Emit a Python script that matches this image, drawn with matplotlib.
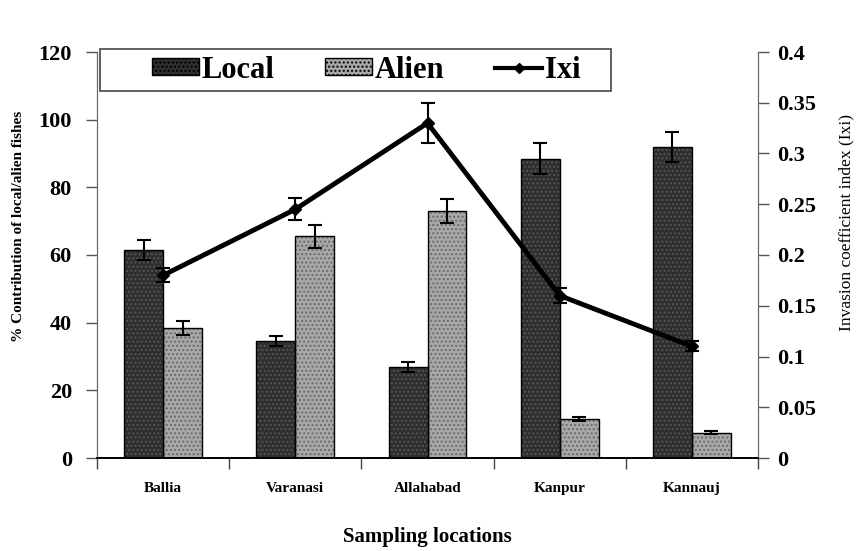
import numpy as np
import matplotlib.pyplot as plt
from matplotlib.patches import Patch, Rectangle
from matplotlib.lines import Line2D

plt.rcParams['font.family'] = ['Liberation Serif', 'DejaVu Serif']

# 데이터
locations = ['Ballia', 'Varanasi', 'Allahabad', 'Kanpur', 'Kannauj']
local_pct = [61.5, 34.5, 27.0, 88.5, 92.0]
local_err = [3.0, 1.5, 1.5, 4.5, 4.5]
alien_pct = [38.5, 65.5, 73.0, 11.5, 7.5]
alien_err = [2.0, 3.5, 3.5, 0.5, 0.4]
ixi = [0.18, 0.245, 0.33, 0.16, 0.11]
ixi_err = [0.007, 0.011, 0.02, 0.007, 0.005]

fig = plt.figure(figsize=(8.61, 5.51), dpi=100)
ax = fig.add_axes([97 / 861, 1 - 458 / 551, 661 / 861, 406 / 551])
ax2 = ax.twinx()

x = np.arange(len(locations))
w = 0.295

local_face = '#2e2e2e'
alien_face = '#a8a8a8'

# 막대 (바탕 + 점무늬 + 테두리)
ax.bar(x - w / 2, local_pct, w, color=local_face, edgecolor='none', zorder=2)
ax.bar(x - w / 2, local_pct, w, color='none', edgecolor='#555555', hatch='....', linewidth=0, zorder=2)
ax.bar(x - w / 2, local_pct, w, color='none', edgecolor='black', linewidth=1.0, zorder=3)
ax.bar(x + w / 2, alien_pct, w, color=alien_face, edgecolor='none', zorder=2)
ax.bar(x + w / 2, alien_pct, w, color='none', edgecolor='#6a6a6a', hatch='....', linewidth=0, zorder=2)
ax.bar(x + w / 2, alien_pct, w, color='none', edgecolor='black', linewidth=1.0, zorder=3)

ax.errorbar(x - w / 2, local_pct, yerr=local_err, fmt='none', ecolor='black',
            elinewidth=1.5, capsize=5, capthick=1.5, zorder=4)
ax.errorbar(x + w / 2, alien_pct, yerr=alien_err, fmt='none', ecolor='black',
            elinewidth=1.5, capsize=5, capthick=1.5, zorder=4)

# Ixi 선
ax2.errorbar(x, ixi, yerr=ixi_err, color='black', linewidth=3.5, marker='D',
             markersize=6, elinewidth=1.5, capsize=5, capthick=1.5, zorder=5)

ax.set_xlim(-0.5, 4.5)
ax.set_ylim(0, 120)
ax2.set_ylim(0, 0.4)
ax.set_yticks(np.arange(0, 121, 20))
ax2.set_yticks(np.arange(0, 0.41, 0.05))
ax2.set_yticklabels(['0', '0.05', '0.1', '0.15', '0.2', '0.25', '0.3', '0.35', '0.4'])

# x축: 경계 눈금 + 가운데 라벨
ax.set_xticks(np.arange(-0.5, 5.0, 1.0))
ax.set_xticklabels([])
ax.set_xticks(x, minor=True)
ax.set_xticklabels(locations, minor=True, fontsize=11, fontweight='bold')
ax.tick_params(axis='x', which='major', direction='out', length=8, width=1, color='#444444')
ax.tick_params(axis='x', which='minor', length=0, pad=17)

ax.tick_params(axis='y', direction='out', length=8, width=1, color='#555555', labelsize=16, pad=10)
ax2.tick_params(axis='y', direction='out', length=8, width=1, color='#555555', labelsize=16, pad=6)
for lab in ax.get_yticklabels() + ax2.get_yticklabels():
    lab.set_fontweight('bold')

for a in (ax, ax2):
    a.spines['top'].set_visible(False)
    a.spines['left'].set_color('#666666')
    a.spines['right'].set_color('#666666')
    a.spines['bottom'].set_color('black')
    a.spines['bottom'].set_linewidth(1.2)

ax.set_xlabel('Sampling locations', fontsize=15, fontweight='bold')
ax.xaxis.set_label_coords(0.5, -(527 - 458) / 406)
ax.set_ylabel('% Contribution of local/alien fishes', fontsize=11, fontweight='bold')
ax.yaxis.set_label_coords((25 - 97) / 661, 0.57)
ax2.set_ylabel('Invasion coefficient index (Ixi)', fontsize=12.5, rotation=90)
ax2.yaxis.set_label_coords((838 - 97) / 661, 0.58)

# 범례 (테두리는 따로 그림)
fig.patches.append(Rectangle((100 / 861, 1 - 91 / 551), 511 / 861, 42 / 551,
                             transform=fig.transFigure, facecolor='white',
                             edgecolor='#555555', linewidth=1.3, zorder=10))
handles = [
    Patch(facecolor=local_face, edgecolor='black', hatch='....', label='Local'),
    Patch(facecolor=alien_face, edgecolor='black', hatch='....', label='Alien'),
    Line2D([0], [0], color='black', linewidth=3, marker='D', markersize=5, label='Ixi'),
]
leg = fig.legend(handles=handles, loc='center left', ncol=3,
                 bbox_to_anchor=(152 / 861, 1 - 70 / 551), frameon=False,
                 prop={'family': 'Liberation Serif', 'size': 22, 'weight': 'bold'},
                 handlelength=1.55, handleheight=0.5, handletextpad=0.08,
                 columnspacing=1.65, borderpad=0, borderaxespad=0)
leg.set_zorder(11)

fig.savefig('out.png', dpi=100)
